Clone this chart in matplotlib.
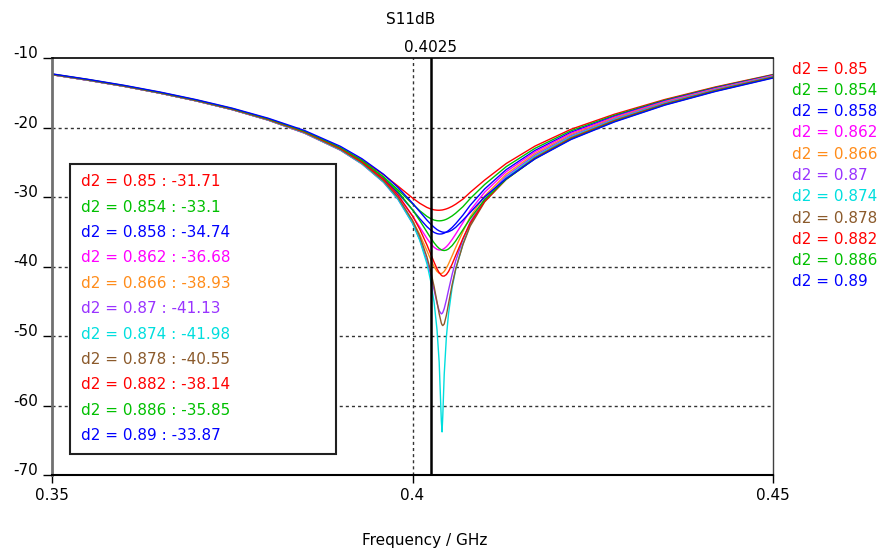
import matplotlib.pyplot as plt
from matplotlib.patches import Rectangle

# frequency points (GHz) shared by all curves
freq = [0.350, 0.355, 0.360, 0.365, 0.370, 0.375, 0.380, 0.385, 0.390, 0.393,
        0.396, 0.398, 0.400, 0.401, 0.402, 0.4025, 0.403, 0.4034, 0.4037, 0.4040,
        0.4041, 0.4042, 0.4044, 0.4047, 0.4050, 0.4055, 0.4060, 0.407, 0.408, 0.410,
        0.413, 0.417, 0.422, 0.428, 0.435, 0.442, 0.450]

d2_values = [0.85, 0.854, 0.858, 0.862, 0.866, 0.87, 0.874, 0.878, 0.882, 0.886, 0.89]
marker_freq = 0.4025
marker_values = [-31.71, -33.1, -34.74, -36.68, -38.93, -41.13, -41.98, -40.55, -38.14, -35.85, -33.87]

s11_0850 = [-12.40, -13.20, -14.07, -15.06, -16.16, -17.40, -18.88, -20.65, -22.94, -24.69,
            -26.80, -28.45, -30.14, -30.90, -31.50, -31.71, -31.85, -31.90, -31.91, -31.88,
            -31.87, -31.85, -31.80, -31.71, -31.59, -31.34, -31.03, -30.30, -29.33, -27.57,
            -25.18, -22.67, -20.25, -18.09, -15.97, -14.17, -12.38]
s11_0854 = [-12.40, -13.20, -14.07, -15.06, -16.16, -17.41, -18.90, -20.70, -23.05, -24.87,
            -27.13, -28.98, -30.99, -31.97, -32.79, -33.10, -33.32, -33.41, -33.43, -33.41,
            -33.39, -33.37, -33.32, -33.20, -33.04, -32.72, -32.32, -31.39, -30.23, -28.21,
            -25.63, -22.99, -20.47, -18.25, -16.07, -14.25, -12.43]
s11_0858 = [-12.40, -13.20, -14.07, -15.06, -16.16, -17.42, -18.92, -20.74, -23.13, -25.02,
            -27.41, -29.45, -31.84, -33.11, -34.27, -34.74, -35.10, -35.27, -35.33, -35.32,
            -35.30, -35.27, -35.20, -35.04, -34.83, -34.38, -33.83, -32.60, -31.20, -28.85,
            -26.06, -23.29, -20.68, -18.40, -16.17, -14.33, -12.48]
s11_0862 = [-12.40, -13.20, -14.07, -15.06, -16.17, -17.43, -18.94, -20.80, -23.24, -25.19,
            -27.71, -29.94, -32.73, -34.33, -35.96, -36.68, -37.24, -37.53, -37.62, -37.61,
            -37.58, -37.53, -37.41, -37.15, -36.81, -36.11, -35.32, -33.68, -31.96, -29.32,
            -26.36, -23.49, -20.83, -18.50, -16.25, -14.40, -12.53]
s11_0866 = [-12.40, -13.19, -14.07, -15.06, -16.17, -17.43, -18.95, -20.80, -23.26, -25.24,
            -27.85, -30.23, -33.38, -35.39, -37.72, -38.93, -40.04, -40.70, -40.97, -41.01,
            -40.97, -40.90, -40.70, -40.23, -39.62, -38.45, -37.24, -34.96, -32.85, -29.85,
            -26.71, -23.74, -21.02, -18.64, -16.34, -14.47, -12.58]
s11_0870 = [-12.38, -13.18, -14.06, -15.05, -16.16, -17.42, -18.94, -20.79, -23.25, -25.25,
            -27.90, -30.36, -33.76, -36.09, -39.17, -41.13, -43.39, -45.26, -46.38, -46.82,
            -46.76, -46.62, -46.06, -44.81, -43.39, -41.13, -39.17, -36.09, -33.59, -30.28,
            -27.00, -23.96, -21.18, -18.76, -16.43, -14.54, -12.63]
s11_0874 = [-12.37, -13.17, -14.05, -15.04, -16.15, -17.41, -18.92, -20.76, -23.22, -25.21,
            -27.86, -30.33, -33.78, -36.21, -39.59, -41.98, -45.21, -49.10, -53.77, -62.2,
            -63.8, -61.5, -55.5, -50.13, -46.76, -43.00, -40.38, -36.74, -34.01, -30.55,
            -27.22, -24.15, -21.33, -18.87, -16.52, -14.60, -12.68]
s11_0878 = [-12.35, -13.15, -14.03, -15.02, -16.12, -17.38, -18.88, -20.69, -23.13, -25.09,
            -27.69, -30.08, -33.38, -35.64, -38.63, -40.55, -42.90, -45.10, -46.80, -48.15,
            -48.39, -48.50, -48.27, -47.02, -45.33, -42.59, -40.30, -36.84, -34.19, -30.72,
            -27.41, -24.32, -21.47, -18.98, -16.60, -14.66, -12.73]
s11_0882 = [-12.33, -13.12, -14.00, -14.98, -16.08, -17.33, -18.81, -20.63, -23.03, -24.95,
            -27.46, -29.73, -32.72, -34.62, -36.89, -38.14, -39.40, -40.33, -40.89, -41.26,
            -41.34, -41.38, -41.38, -41.16, -40.72, -39.65, -38.39, -35.94, -33.78, -30.62,
            -27.46, -24.42, -21.57, -19.06, -16.67, -14.72, -12.78]
s11_0886 = [-12.31, -13.10, -13.97, -14.95, -16.04, -17.28, -18.75, -20.53, -22.88, -24.74,
            -27.14, -29.23, -31.84, -33.38, -35.03, -35.85, -36.60, -37.10, -37.40, -37.59,
            -37.64, -37.67, -37.70, -37.64, -37.47, -36.99, -36.31, -34.70, -33.11, -30.37,
            -27.45, -24.48, -21.66, -19.14, -16.73, -14.77, -12.83]
s11_0890 = [-12.28, -13.07, -13.93, -14.90, -15.99, -17.22, -18.67, -20.42, -22.71, -24.50,
            -26.74, -28.65, -30.88, -32.10, -33.32, -33.87, -34.36, -34.69, -34.87, -35.00,
            -35.03, -35.06, -35.08, -35.07, -35.00, -34.75, -34.36, -33.32, -32.23, -29.98,
            -27.35, -24.51, -21.72, -19.20, -16.78, -14.82, -12.88]

curves = [s11_0850, s11_0854, s11_0858, s11_0862, s11_0866, s11_0870,
          s11_0874, s11_0878, s11_0882, s11_0886, s11_0890]
colors = ['#ff0000', '#00c000', '#0000ff', '#ff00ff', '#ff8c1a', '#9933ff',
          '#00dede', '#8b5a2b', '#ff0000', '#00c000', '#0000ff']

xticks = [0.35, 0.4, 0.45]
xtick_labels = ['0.35', '0.4', '0.45']
yticks = [-70, -60, -50, -40, -30, -20, -10]
ytick_labels = ['-70', '-60', '-50', '-40', '-30', '-20', '-10']

W, H = 880, 550
plt.rcParams['font.family'] = 'DejaVu Sans'
fig = plt.figure(figsize=(W / 100, H / 100), dpi=100)
ax = fig.add_axes([52 / W, 1 - 475 / H, 721 / W, 417 / H])

# dashed grid (inner lines only)
for x in xticks[1:-1]:
    ax.axvline(x, color='#333333', lw=1.0, dashes=(2.2, 2.2), zorder=1)
for y in yticks[1:-1]:
    ax.axhline(y, color='#333333', lw=1.0, dashes=(2.2, 2.2), zorder=1)

for vals, c in zip(curves, colors):
    ax.plot(freq, vals, color=c, lw=1.0, zorder=2)

# marker line
ax.axvline(marker_freq, color='black', lw=1.8, zorder=3)
ax.text(marker_freq, 1.024, str(marker_freq), transform=ax.get_xaxis_transform(),
        ha='center', va='center', fontsize=11)

ax.set_xlim(0.35, 0.45)
ax.set_ylim(-70, -10)
ax.set_xticks(xticks, labels=xtick_labels)
ax.set_yticks(yticks, labels=ytick_labels, va='baseline')
ax.tick_params(axis='y', direction='out', length=6.5, width=1, pad=3.5, labelsize=11)
ax.tick_params(axis='x', direction='out', length=6, width=1, pad=3, labelsize=11)

ax.spines['left'].set_color('#707070')
ax.spines['left'].set_linewidth(2)
ax.spines['top'].set_linewidth(1.2)
ax.spines['bottom'].set_linewidth(1.5)
ax.spines['right'].set_color('#404040')
ax.spines['right'].set_linewidth(1)

fig.text(411 / W, 1 - 20 / H, 'S11dB', ha='center', va='center', fontsize=11)
fig.text(425 / W, 1 - 540 / H, 'Frequency / GHz', ha='center', va='center', fontsize=11)

# legend on the right
for i, (d2, c) in enumerate(zip(d2_values, colors)):
    fig.text(792 / W, 1 - (69 + i * 21.3) / H, 'd2 = %s' % d2, color=c,
             ha='left', va='center', fontsize=11)

# marker value box
box = Rectangle((70 / W, 1 - 454 / H), 266 / W, 290 / H, transform=fig.transFigure,
                facecolor='white', edgecolor='#202020', lw=1.5, zorder=1)
fig.add_artist(box)
for i, (d2, v, c) in enumerate(zip(d2_values, marker_values, colors)):
    fig.text(81 / W, 1 - (181.7 + i * 25.4) / H, 'd2 = %s : %s' % (d2, v), color=c,
             ha='left', va='center', fontsize=11, zorder=3)

fig.savefig('out.png', dpi=100)
